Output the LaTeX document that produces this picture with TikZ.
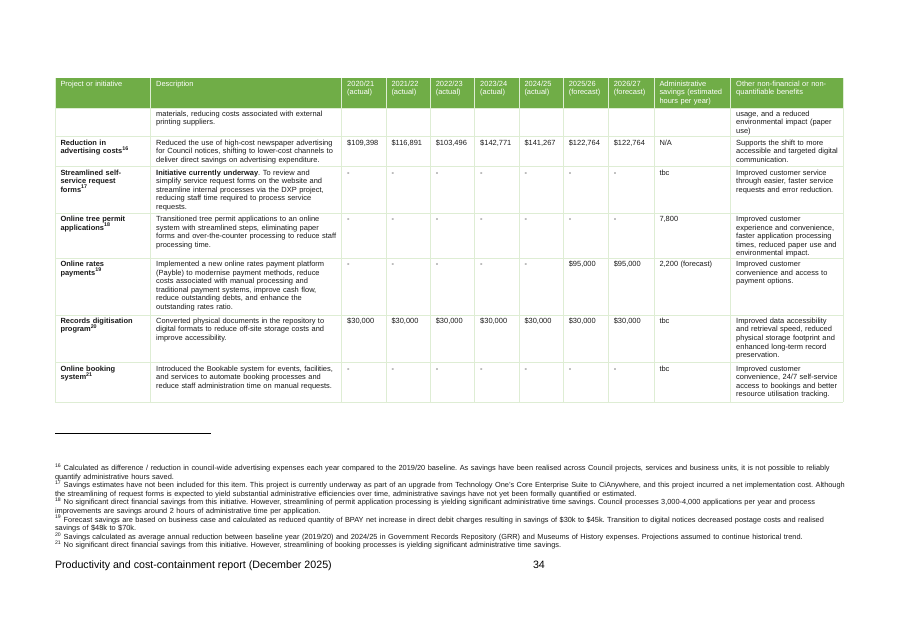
\documentclass[tikz,border=0pt]{standalone}
\usepackage{fontspec}
\setmainfont{Liberation Sans}
\usetikzlibrary{positioning}
\frenchspacing
\definecolor{headgreen}{RGB}{112,173,71}
\definecolor{rulegreen}{RGB}{222,237,212}
\definecolor{bodytext}{RGB}{25,25,25}
\newcommand{\cellfont}{\fontsize{7pt}{8.05pt}\selectfont}
\newcommand{\notefont}{\fontsize{6.92pt}{8.05pt}\selectfont}
\tikzstyle{every node}=[inner sep=0, outer sep=0, anchor=base west, align=left, text=bodytext]
\tikzstyle{cell}=[font=\cellfont]
\tikzstyle{headcell}=[font=\cellfont, text=white]
\tikzstyle{namecell}=[font=\cellfont\bfseries, text width=31mm]
\tikzstyle{desccell}=[cell, text width=62mm]
\tikzstyle{numcell}=[cell, text width=14mm]
\tikzstyle{admincell}=[cell, text width=24mm]
\tikzstyle{othercell}=[cell, text width=36mm]
\tikzstyle{note}=[font=\notefont, text width=290mm]
\tikzstyle{gridline}=[rulegreen, line width=.6pt]

\begin{document}
\begin{tikzpicture}[x=0.3296mm, y=-0.3296mm]
    \useasboundingbox (0, 0) rectangle (901, 637);
    % header band and rules
    \fill[headgreen] (55, 78) rectangle (843.3, 108);
    \foreach \ry in {108, 136.7, 166.7, 213.3, 258.3, 315, 362.7, 402.3}
        \draw[gridline] (55, \ry) -- (843.3, \ry);
    \foreach \cx in {55, 150.7, 341.7, 386, 430.3, 474.7, 519, 563.3, 608.3, 654, 730.7, 843.3}
        \draw[gridline] (\cx, 78) -- (\cx, 402.3);
    % header
    \node[headcell, text width=31mm] (hproj) at (60.5, 86.3) {Project or initiative};
    \node[headcell, text width=62mm] (hdesc) at (156.2, 86.3) {Description};
    \node[headcell, text width=14mm] (h2021) at (347.2, 86.3) {2020/21\\(actual)};
    \node[headcell, text width=14mm] (h2122) at (391.5, 86.3) {2021/22\\(actual)};
    \node[headcell, text width=14mm] (h2223) at (435.8, 86.3) {2022/23\\(actual)};
    \node[headcell, text width=14mm] (h2324) at (480.2, 86.3) {2023/24\\(actual)};
    \node[headcell, text width=14mm] (h2425) at (524.5, 86.3) {2024/25\\(actual)};
    \node[headcell, text width=14mm] (h2526) at (568.8, 86.3) {2025/26\\(forecast)};
    \node[headcell, text width=14mm] (h2627) at (613.8, 86.3) {2026/27\\(forecast)};
    \node[headcell, text width=24mm] (hadmin) at (659.5, 86.3) {Administrative\\savings (estimated\\hours per year)};
    \node[headcell, text width=36mm] (hother) at (736.2, 86.3) {Other non-financial or non-\\quantifiable benefits};
    % continued row
    \node[desccell] (adesc) at (156.2, 116.3) {materials, reducing costs associated with external\\printing suppliers.};
    \node[othercell] (aother) at (736.2, 116.3) {usage, and a reduced\\environmental impact (paper\\use)};
    % advertising
    \node[namecell] (bproj) at (60.5, 145) {Reduction in\\advertising costs\textsuperscript{16}};
    \node[desccell] (bdesc) at (156.2, 145) {Reduced the use of high-cost newspaper advertising\\for Council notices, shifting to lower-cost channels to\\deliver direct savings on advertising expenditure.};
    \node[numcell] (b2021) at (347.2, 145) {\$109,398};
    \node[numcell] (b2122) at (391.5, 145) {\$116,891};
    \node[numcell] (b2223) at (435.8, 145) {\$103,496};
    \node[numcell] (b2324) at (480.2, 145) {\$142,771};
    \node[numcell] (b2425) at (524.5, 145) {\$141,267};
    \node[numcell] (b2526) at (568.8, 145) {\$122,764};
    \node[numcell] (b2627) at (613.8, 145) {\$122,764};
    \node[admincell] (badmin) at (659.5, 145) {N/A};
    \node[othercell] (bother) at (736.2, 145) {Supports the shift to more\\accessible and targeted digital\\communication.};
    % service request forms
    \node[namecell] (cproj) at (60.5, 175) {Streamlined self-\\service request\\forms\textsuperscript{17}};
    \node[desccell] (cdesc) at (156.2, 175) {\textbf{Initiative currently underway}. To review and\\simplify service request forms on the website and\\streamline internal processes via the DXP project,\\reducing staff time required to process service\\requests.};
    \node[numcell] (c2021) at (347.2, 175) {-};
    \node[numcell] (c2122) at (391.5, 175) {-};
    \node[numcell] (c2223) at (435.8, 175) {-};
    \node[numcell] (c2324) at (480.2, 175) {-};
    \node[numcell] (c2425) at (524.5, 175) {-};
    \node[numcell] (c2526) at (568.8, 175) {-};
    \node[numcell] (c2627) at (613.8, 175) {-};
    \node[admincell] (cadmin) at (659.5, 175) {tbc};
    \node[othercell] (cother) at (736.2, 175) {Improved customer service\\through easier, faster service\\requests and error reduction.};
    % tree permits
    \node[namecell] (dproj) at (60.5, 221.6) {Online tree permit\\applications\textsuperscript{18}};
    \node[desccell] (ddesc) at (156.2, 221.6) {Transitioned tree permit applications to an online\\system with streamlined steps, eliminating paper\\forms and over-the-counter processing to reduce staff\\processing time.};
    \node[numcell] (d2021) at (347.2, 221.6) {-};
    \node[numcell] (d2122) at (391.5, 221.6) {-};
    \node[numcell] (d2223) at (435.8, 221.6) {-};
    \node[numcell] (d2324) at (480.2, 221.6) {-};
    \node[numcell] (d2425) at (524.5, 221.6) {-};
    \node[numcell] (d2526) at (568.8, 221.6) {-};
    \node[numcell] (d2627) at (613.8, 221.6) {-};
    \node[admincell] (dadmin) at (659.5, 221.6) {7,800};
    \node[othercell] (dother) at (736.2, 221.6) {Improved customer\\experience and convenience,\\faster application processing\\times, reduced paper use and\\environmental impact.};
    % rates payments
    \node[namecell] (eproj) at (60.5, 266.6) {Online rates\\payments\textsuperscript{19}};
    \node[desccell] (edesc) at (156.2, 266.6) {Implemented a new online rates payment platform\\(Payble) to modernise payment methods, reduce\\costs associated with manual processing and\\traditional payment systems, improve cash flow,\\reduce outstanding debts, and enhance the\\outstanding rates ratio.};
    \node[numcell] (e2021) at (347.2, 266.6) {-};
    \node[numcell] (e2122) at (391.5, 266.6) {-};
    \node[numcell] (e2223) at (435.8, 266.6) {-};
    \node[numcell] (e2324) at (480.2, 266.6) {-};
    \node[numcell] (e2425) at (524.5, 266.6) {-};
    \node[numcell] (e2526) at (568.8, 266.6) {\$95,000};
    \node[numcell] (e2627) at (613.8, 266.6) {\$95,000};
    \node[admincell] (eadmin) at (659.5, 266.6) {2,200 (forecast)};
    \node[othercell] (eother) at (736.2, 266.6) {Improved customer\\convenience and access to\\payment options.};
    % records digitisation
    \node[namecell] (fproj) at (60.5, 323.3) {Records digitisation\\program\textsuperscript{20}};
    \node[desccell] (fdesc) at (156.2, 323.3) {Converted physical documents in the repository to\\digital formats to reduce off-site storage costs and\\improve accessibility.};
    \node[numcell] (f2021) at (347.2, 323.3) {\$30,000};
    \node[numcell] (f2122) at (391.5, 323.3) {\$30,000};
    \node[numcell] (f2223) at (435.8, 323.3) {\$30,000};
    \node[numcell] (f2324) at (480.2, 323.3) {\$30,000};
    \node[numcell] (f2425) at (524.5, 323.3) {\$30,000};
    \node[numcell] (f2526) at (568.8, 323.3) {\$30,000};
    \node[numcell] (f2627) at (613.8, 323.3) {\$30,000};
    \node[admincell] (fadmin) at (659.5, 323.3) {tbc};
    \node[othercell] (fother) at (736.2, 323.3) {Improved data accessibility\\and retrieval speed, reduced\\physical storage footprint and\\enhanced long-term record\\preservation.};
    % booking system
    \node[namecell] (gproj) at (60.5, 371) {Online booking\\system\textsuperscript{21}};
    \node[desccell] (gdesc) at (156.2, 371) {Introduced the Bookable system for events, facilities,\\and services to automate booking processes and\\reduce staff administration time on manual requests.};
    \node[numcell] (g2021) at (347.2, 371) {-};
    \node[numcell] (g2122) at (391.5, 371) {-};
    \node[numcell] (g2223) at (435.8, 371) {-};
    \node[numcell] (g2324) at (480.2, 371) {-};
    \node[numcell] (g2425) at (524.5, 371) {-};
    \node[numcell] (g2526) at (568.8, 371) {-};
    \node[numcell] (g2627) at (613.8, 371) {-};
    \node[admincell] (gadmin) at (659.5, 371) {tbc};
    \node[othercell] (gother) at (736.2, 371) {Improved customer\\convenience, 24/7 self-service\\access to bookings and better\\resource utilisation tracking.};
    % footnotes
    \draw[black, line width=.5pt] (55, 433) -- (211, 433);
    \node[note] (fn16) at (55, 470.5) {\textsuperscript{16} Calculated as difference / reduction in council-wide advertising expenses each year compared to the 2019/20 baseline. As savings have been realised across Council projects, services and business units, it is not possible to reliably\\quantify administrative hours saved.};
    \node[note] (fn17) at (55, 487.7) {\textsuperscript{17} Savings estimates have not been included for this item. This project is currently underway as part of an upgrade from Technology One’s Core Enterprise Suite to CiAnywhere, and this project incurred a net implementation cost. Although\\the streamlining of request forms is expected to yield substantial administrative efficiencies over time, administrative savings have not yet been formally quantified or estimated.};
    \node[note] (fn18) at (55, 504.9) {\textsuperscript{18} No significant direct financial savings from this initiative. However, streamlining of permit application processing is yielding significant administrative time savings. Council processes 3,000-4,000 applications per year and process\\improvements are savings around 2 hours of administrative time per application.};
    \node[note] (fn19) at (55, 522.1) {\textsuperscript{19} Forecast savings are based on business case and calculated as reduced quantity of BPAY net increase in direct debit charges resulting in savings of \$30k to \$45k. Transition to digital notices decreased postage costs and realised\\savings of \$48k to \$70k.};
    \node[note] (fn20) at (55, 539.3) {\textsuperscript{20} Savings calculated as average annual reduction between baseline year (2019/20) and 2024/25 in Government Records Repository (GRR) and Museums of History expenses. Projections assumed to continue historical trend.};
    \node[note] (fn21) at (55, 547.9) {\textsuperscript{21} No significant direct financial savings from this initiative. However, streamlining of booking processes is yielding significant administrative time savings.};
    % page footer
    \node[font=\fontsize{10pt}{12pt}\selectfont, text=black] (title) at (55, 568) {Productivity and cost-containment report (December 2025)};
    \node[font=\fontsize{10pt}{12pt}\selectfont, text=black] (page) at (533, 568) {34};
\end{tikzpicture}
\end{document}
